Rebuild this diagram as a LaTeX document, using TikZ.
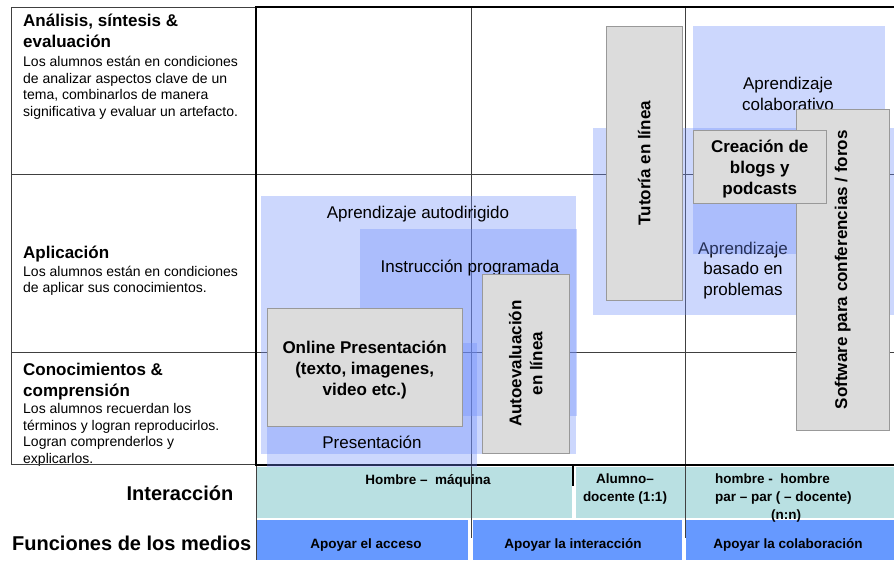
\documentclass[tikz,border=0pt]{standalone}
\usepackage{fontspec}
\setmainfont{Liberation Sans}
\usepackage{xcolor}
\usepackage{tikz}
\usetikzlibrary{positioning}

\definecolor{zoneblue}{RGB}{110,140,250}
\definecolor{boxgray}{HTML}{DCDCDC}
\definecolor{bandcyan}{RGB}{185,224,226}
\definecolor{bandblue}{RGB}{102,153,255}

\begin{document}
\begin{tikzpicture}[x=1pt,y=-1pt,
	head/.style={font=\fontsize{17}{21}\selectfont\bfseries, anchor=north west, inner sep=0pt, align=left},
	desc/.style={font=\fontsize{14}{16.7}\selectfont, anchor=north west, inner sep=0pt, align=left},
	zone/.style={fill=zoneblue, fill opacity=0.35, inner sep=0pt, anchor=north west},
	zonetxt/.style={font=\fontsize{17}{20.5}\selectfont, align=center, inner sep=0pt},
	media/.style={fill=boxgray, draw=gray!80, inner sep=0pt, anchor=north west},
	mediatxt/.style={font=\fontsize{17}{21}\selectfont\bfseries, align=center, inner sep=0pt},
	band/.style={inner sep=0pt, anchor=north west},
	bandtxt/.style={font=\fontsize{13.5}{18}\selectfont\bfseries, align=center, inner sep=0pt},
	rowlbl/.style={font=\fontsize{20}{24}\selectfont\bfseries, inner sep=0pt},
	gridline/.style={draw=black!75, line width=0.8pt},
	thickrule/.style={draw=black, line width=2.6pt}]
	\useasboundingbox (0,0) rectangle (894,560);

	% bands
	\node[band, fill=bandcyan, minimum width=315, minimum height=51] (hm) at (257,467) {};
	\node[band, fill=bandcyan, minimum width=318, minimum height=51] (hh) at (576,467) {};
	\node[band, fill=bandblue, minimum width=211, minimum height=40] (acceso) at (257,520) {};
	\node[band, fill=bandblue, minimum width=209, minimum height=40] (interac) at (473,520) {};
	\node[band, fill=bandblue, minimum width=208, minimum height=40] (colab) at (686,520) {};

	\node[bandtxt] (hmtxt) at (428,481) {Hombre –\ \ máquina};
	\node[bandtxt] (adtxt) at (625,489) {Alumno–\\docente (1:1)};
	\node[bandtxt, align=left, anchor=north west] (hhtxt) at (715,474) {hombre -\ \ hombre\\par – par ( – docente)\\\hspace*{56pt}(n:n)};
	\node[bandtxt, anchor=base] (accesotxt) at (366,548.5) {Apoyar el acceso};
	\node[bandtxt, anchor=base] (interactxt) at (573,548.5) {Apoyar la interacción};
	\node[bandtxt, anchor=base] (colabtxt) at (788,548.5) {Apoyar la colaboración};

	\node[rowlbl] (interaccion) at (180,493) {Interacción};
	\node[rowlbl, anchor=west] (funciones) at (12,543) {Funciones de los medios};

	% rows
	\node[head] (analisis) at (23,14) {Análisis, síntesis \&\\evaluación};
	\node[desc] (analisisdesc) at (23,56) {Los alumnos están en condiciones\\de analizar aspectos clave de un\\tema, combinarlos de manera\\significativa y evaluar un artefacto.};
	\node[head] (aplicacion) at (23,246) {Aplicación};
	\node[desc] (aplicaciondesc) at (23,265.5) {Los alumnos están en condiciones\\de aplicar sus conocimientos.};
	\node[head] (conocim) at (23,363) {Conocimientos \&\\comprensión};
	\node[desc] (conocimdesc) at (23,403) {Los alumnos recuerdan los\\términos y logran reproducirlos.\\Logran comprenderlos y\\explicarlos.};

	% lines
	\draw[gridline] (11,7) rectangle (256,464);
	\foreach \y in {174, 352}
		\draw[gridline] (11,\y) -- (894,\y);
	\foreach \x in {471, 685}
		\draw[gridline] (\x,7) -- (\x,538);
	\draw[gridline] (256,465) -- (256,560);
	\draw[thickrule] (256,7) -- (894,7);
	\draw[thickrule] (256,6) -- (256,465) -- (894,465);
	\draw[thickrule] (573,465) -- (573,486);

	% zones
	\node[zone, minimum width=315, minimum height=258] (autodir) at (261,196) {};
	\node[zone, minimum width=217, minimum height=187] (instruc) at (360,229) {};
	\node[zone, minimum width=210, minimum height=124] (present) at (267,343) {};
	\node[zonetxt] (autodirtxt) at (418,214) {Aprendizaje autodirigido};
	\node[zonetxt] (instructxt) at (470,268) {Instrucción programada};
	\node[zonetxt] (presenttxt) at (372,442) {Presentación};

	\node[zone, minimum width=301, minimum height=187] (problemas) at (593,128) {};
	\node[zonetxt] (problemastxt) at (743,270.5) {Aprendizaje\\basado en\\problemas};
	\node[zone, minimum width=192, minimum height=228] (colabzone) at (693,26) {};
	\node[zonetxt] (colabzonetxt) at (788,94) {Aprendizaje\\colaborativo};

	% media
	\node[media, minimum width=195, minimum height=118] (online) at (267,308) {};
	\node[mediatxt, yshift=-3pt] (onlinetxt) at (online) {Online Presentación\\(texto, imagenes,\\video etc.)};
	\node[media, minimum width=87, minimum height=179] (autoeval) at (482,274) {};
	\node[mediatxt, rotate=90] (autoevaltxt) at (autoeval) {Autoevaluación\\en línea};
	\node[media, minimum width=76, minimum height=274] (tutoria) at (606,26) {};
	\node[mediatxt, rotate=90] (tutoriatxt) at (tutoria) {Tutoría en línea};
	\node[media, minimum width=93, minimum height=321] (software) at (796,109) {};
	\node[mediatxt, rotate=90] (softwaretxt) at (software) {Software para conferencias / foros};
	\node[media, minimum width=133, minimum height=73] (blogs) at (693,130) {};
	\node[mediatxt, yshift=-2pt] (blogstxt) at (blogs) {Creación de\\blogs y\\podcasts};
\end{tikzpicture}
\end{document}
